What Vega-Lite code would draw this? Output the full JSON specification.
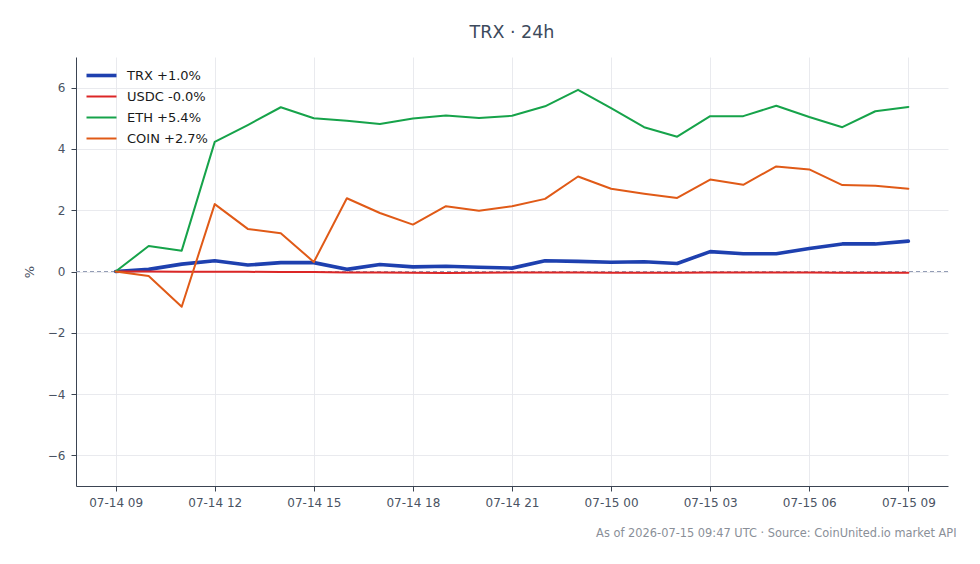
{
  "$schema": "https://vega.github.io/schema/vega-lite/v6.json",
  "width": 872,
  "height": 429,
  "autosize": {"type": "none"},
  "padding": {"left": 76, "top": 57, "right": 32, "bottom": 78},
  "background": "white",
  "config": {
    "font": "DejaVu Sans",
    "view": {"stroke": null},
    "axis": {
      "domainColor": "#3b4452",
      "tickColor": "#3b4452",
      "labelColor": "#4a5363",
      "labelFontSize": 12,
      "gridColor": "#e6e8ec",
      "gridWidth": 0.9,
      "tickSize": 5,
      "labelPadding": 6
    },
    "legend": {
      "orient": "none",
      "legendX": 19,
      "legendY": 12,
      "padding": 0,
      "labelFontSize": 13,
      "labelColor": "#1a1a1a",
      "symbolType": "stroke",
      "symbolSize": 900,
      "labelOffset": 19,
      "rowPadding": 7
    }
  },
  "title": {
    "text": "TRX · 24h",
    "fontSize": 17.5,
    "fontWeight": "normal",
    "color": "#3d4a5c",
    "anchor": "middle",
    "offset": 16
  },
  "data": {
    "values": [
      {"t": "2026-07-14T09:00:00Z", "s": "TRX +1.0%", "v": 0},
      {"t": "2026-07-14T10:00:00Z", "s": "TRX +1.0%", "v": 0.07},
      {"t": "2026-07-14T11:00:00Z", "s": "TRX +1.0%", "v": 0.24},
      {"t": "2026-07-14T12:00:00Z", "s": "TRX +1.0%", "v": 0.35},
      {"t": "2026-07-14T13:00:00Z", "s": "TRX +1.0%", "v": 0.21},
      {"t": "2026-07-14T14:00:00Z", "s": "TRX +1.0%", "v": 0.29},
      {"t": "2026-07-14T15:00:00Z", "s": "TRX +1.0%", "v": 0.29},
      {"t": "2026-07-14T16:00:00Z", "s": "TRX +1.0%", "v": 0.07},
      {"t": "2026-07-14T17:00:00Z", "s": "TRX +1.0%", "v": 0.23},
      {"t": "2026-07-14T18:00:00Z", "s": "TRX +1.0%", "v": 0.15},
      {"t": "2026-07-14T19:00:00Z", "s": "TRX +1.0%", "v": 0.17},
      {"t": "2026-07-14T20:00:00Z", "s": "TRX +1.0%", "v": 0.14},
      {"t": "2026-07-14T21:00:00Z", "s": "TRX +1.0%", "v": 0.11},
      {"t": "2026-07-14T22:00:00Z", "s": "TRX +1.0%", "v": 0.35},
      {"t": "2026-07-14T23:00:00Z", "s": "TRX +1.0%", "v": 0.33},
      {"t": "2026-07-15T00:00:00Z", "s": "TRX +1.0%", "v": 0.30},
      {"t": "2026-07-15T01:00:00Z", "s": "TRX +1.0%", "v": 0.32},
      {"t": "2026-07-15T02:00:00Z", "s": "TRX +1.0%", "v": 0.26},
      {"t": "2026-07-15T03:00:00Z", "s": "TRX +1.0%", "v": 0.65},
      {"t": "2026-07-15T04:00:00Z", "s": "TRX +1.0%", "v": 0.58},
      {"t": "2026-07-15T05:00:00Z", "s": "TRX +1.0%", "v": 0.58},
      {"t": "2026-07-15T06:00:00Z", "s": "TRX +1.0%", "v": 0.75},
      {"t": "2026-07-15T07:00:00Z", "s": "TRX +1.0%", "v": 0.90},
      {"t": "2026-07-15T08:00:00Z", "s": "TRX +1.0%", "v": 0.90},
      {"t": "2026-07-15T09:00:00Z", "s": "TRX +1.0%", "v": 0.99},
      {"t": "2026-07-14T09:00:00Z", "s": "USDC -0.0%", "v": 0},
      {"t": "2026-07-14T10:00:00Z", "s": "USDC -0.0%", "v": 0.0},
      {"t": "2026-07-14T11:00:00Z", "s": "USDC -0.0%", "v": -0.01},
      {"t": "2026-07-14T12:00:00Z", "s": "USDC -0.0%", "v": -0.01},
      {"t": "2026-07-14T13:00:00Z", "s": "USDC -0.0%", "v": -0.01},
      {"t": "2026-07-14T14:00:00Z", "s": "USDC -0.0%", "v": -0.02},
      {"t": "2026-07-14T15:00:00Z", "s": "USDC -0.0%", "v": -0.02},
      {"t": "2026-07-14T16:00:00Z", "s": "USDC -0.0%", "v": -0.03},
      {"t": "2026-07-14T17:00:00Z", "s": "USDC -0.0%", "v": -0.03},
      {"t": "2026-07-14T18:00:00Z", "s": "USDC -0.0%", "v": -0.04},
      {"t": "2026-07-14T19:00:00Z", "s": "USDC -0.0%", "v": -0.05},
      {"t": "2026-07-14T20:00:00Z", "s": "USDC -0.0%", "v": -0.04},
      {"t": "2026-07-14T21:00:00Z", "s": "USDC -0.0%", "v": -0.03},
      {"t": "2026-07-14T22:00:00Z", "s": "USDC -0.0%", "v": -0.03},
      {"t": "2026-07-14T23:00:00Z", "s": "USDC -0.0%", "v": -0.03},
      {"t": "2026-07-15T00:00:00Z", "s": "USDC -0.0%", "v": -0.04},
      {"t": "2026-07-15T01:00:00Z", "s": "USDC -0.0%", "v": -0.04},
      {"t": "2026-07-15T02:00:00Z", "s": "USDC -0.0%", "v": -0.04},
      {"t": "2026-07-15T03:00:00Z", "s": "USDC -0.0%", "v": -0.03},
      {"t": "2026-07-15T04:00:00Z", "s": "USDC -0.0%", "v": -0.03},
      {"t": "2026-07-15T05:00:00Z", "s": "USDC -0.0%", "v": -0.03},
      {"t": "2026-07-15T06:00:00Z", "s": "USDC -0.0%", "v": -0.03},
      {"t": "2026-07-15T07:00:00Z", "s": "USDC -0.0%", "v": -0.04},
      {"t": "2026-07-15T08:00:00Z", "s": "USDC -0.0%", "v": -0.04},
      {"t": "2026-07-15T09:00:00Z", "s": "USDC -0.0%", "v": -0.04},
      {"t": "2026-07-14T09:00:00Z", "s": "ETH +5.4%", "v": 0},
      {"t": "2026-07-14T10:00:00Z", "s": "ETH +5.4%", "v": 0.83},
      {"t": "2026-07-14T11:00:00Z", "s": "ETH +5.4%", "v": 0.68},
      {"t": "2026-07-14T12:00:00Z", "s": "ETH +5.4%", "v": 4.23},
      {"t": "2026-07-14T13:00:00Z", "s": "ETH +5.4%", "v": 4.78},
      {"t": "2026-07-14T14:00:00Z", "s": "ETH +5.4%", "v": 5.36},
      {"t": "2026-07-14T15:00:00Z", "s": "ETH +5.4%", "v": 5.0},
      {"t": "2026-07-14T16:00:00Z", "s": "ETH +5.4%", "v": 4.92},
      {"t": "2026-07-14T17:00:00Z", "s": "ETH +5.4%", "v": 4.81},
      {"t": "2026-07-14T18:00:00Z", "s": "ETH +5.4%", "v": 4.99},
      {"t": "2026-07-14T19:00:00Z", "s": "ETH +5.4%", "v": 5.09},
      {"t": "2026-07-14T20:00:00Z", "s": "ETH +5.4%", "v": 5.01},
      {"t": "2026-07-14T21:00:00Z", "s": "ETH +5.4%", "v": 5.08},
      {"t": "2026-07-14T22:00:00Z", "s": "ETH +5.4%", "v": 5.39},
      {"t": "2026-07-14T23:00:00Z", "s": "ETH +5.4%", "v": 5.93},
      {"t": "2026-07-15T00:00:00Z", "s": "ETH +5.4%", "v": 5.33},
      {"t": "2026-07-15T01:00:00Z", "s": "ETH +5.4%", "v": 4.71},
      {"t": "2026-07-15T02:00:00Z", "s": "ETH +5.4%", "v": 4.40},
      {"t": "2026-07-15T03:00:00Z", "s": "ETH +5.4%", "v": 5.07},
      {"t": "2026-07-15T04:00:00Z", "s": "ETH +5.4%", "v": 5.07},
      {"t": "2026-07-15T05:00:00Z", "s": "ETH +5.4%", "v": 5.41},
      {"t": "2026-07-15T06:00:00Z", "s": "ETH +5.4%", "v": 5.04},
      {"t": "2026-07-15T07:00:00Z", "s": "ETH +5.4%", "v": 4.71},
      {"t": "2026-07-15T08:00:00Z", "s": "ETH +5.4%", "v": 5.23},
      {"t": "2026-07-15T09:00:00Z", "s": "ETH +5.4%", "v": 5.37},
      {"t": "2026-07-14T09:00:00Z", "s": "COIN +2.7%", "v": 0},
      {"t": "2026-07-14T10:00:00Z", "s": "COIN +2.7%", "v": -0.15},
      {"t": "2026-07-14T11:00:00Z", "s": "COIN +2.7%", "v": -1.15},
      {"t": "2026-07-14T12:00:00Z", "s": "COIN +2.7%", "v": 2.2},
      {"t": "2026-07-14T13:00:00Z", "s": "COIN +2.7%", "v": 1.39},
      {"t": "2026-07-14T14:00:00Z", "s": "COIN +2.7%", "v": 1.25},
      {"t": "2026-07-14T15:00:00Z", "s": "COIN +2.7%", "v": 0.31},
      {"t": "2026-07-14T16:00:00Z", "s": "COIN +2.7%", "v": 2.39},
      {"t": "2026-07-14T17:00:00Z", "s": "COIN +2.7%", "v": 1.91},
      {"t": "2026-07-14T18:00:00Z", "s": "COIN +2.7%", "v": 1.53},
      {"t": "2026-07-14T19:00:00Z", "s": "COIN +2.7%", "v": 2.13},
      {"t": "2026-07-14T20:00:00Z", "s": "COIN +2.7%", "v": 1.98},
      {"t": "2026-07-14T21:00:00Z", "s": "COIN +2.7%", "v": 2.13},
      {"t": "2026-07-14T22:00:00Z", "s": "COIN +2.7%", "v": 2.37},
      {"t": "2026-07-14T23:00:00Z", "s": "COIN +2.7%", "v": 3.1},
      {"t": "2026-07-15T00:00:00Z", "s": "COIN +2.7%", "v": 2.7},
      {"t": "2026-07-15T01:00:00Z", "s": "COIN +2.7%", "v": 2.54},
      {"t": "2026-07-15T02:00:00Z", "s": "COIN +2.7%", "v": 2.4},
      {"t": "2026-07-15T03:00:00Z", "s": "COIN +2.7%", "v": 3.0},
      {"t": "2026-07-15T04:00:00Z", "s": "COIN +2.7%", "v": 2.83},
      {"t": "2026-07-15T05:00:00Z", "s": "COIN +2.7%", "v": 3.43},
      {"t": "2026-07-15T06:00:00Z", "s": "COIN +2.7%", "v": 3.33},
      {"t": "2026-07-15T07:00:00Z", "s": "COIN +2.7%", "v": 2.82},
      {"t": "2026-07-15T08:00:00Z", "s": "COIN +2.7%", "v": 2.8},
      {"t": "2026-07-15T09:00:00Z", "s": "COIN +2.7%", "v": 2.7}
    ]
  },
  "layer": [
    {
      "mark": {"type": "rule", "color": "#939db5", "strokeDash": [4, 3], "strokeWidth": 1},
      "encoding": {
        "y": {
          "datum": 0,
          "type": "quantitative",
          "scale": {"domain": [-7, 7], "nice": false},
          "axis": {
            "values": [-6, -4, -2, 0, 2, 4, 6],
            "grid": true,
            "format": "d",
            "title": "%",
            "titleFontSize": 13,
            "titleFontWeight": "normal",
            "titleColor": "#4a5363",
            "titlePadding": 11
          }
        }
      }
    },
    {
      "mark": {"type": "line", "strokeJoin": "round", "strokeCap": "round"},
      "encoding": {
        "x": {
          "field": "t",
          "type": "temporal",
          "scale": {
            "type": "utc",
            "domain": ["2026-07-14T07:48:00Z", "2026-07-15T10:12:00Z"]
          },
          "axis": {
            "labelExpr": "utcFormat(datum.value, '%m-%d %H')",
            "tickCount": 8,
            "grid": true,
            "title": "As of 2026-07-15 09:47 UTC · Source: CoinUnited.io market API",
            "titleFontSize": 11.4,
            "titleFontWeight": "normal",
            "titleColor": "#8a8f98",
            "titleAnchor": "end",
            "titleAlign": "right",
            "titleX": 880,
            "titleY": 41
          }
        },
        "y": {
          "field": "v",
          "type": "quantitative",
          "scale": {"domain": [-7, 7], "nice": false},
          "axis": {
            "values": [-6, -4, -2, 0, 2, 4, 6],
            "grid": true,
            "format": "d",
            "title": "%",
            "titleFontSize": 13,
            "titleFontWeight": "normal",
            "titleColor": "#4a5363",
            "titlePadding": 11
          }
        },
        "color": {
          "field": "s",
          "type": "nominal",
          "scale": {
            "domain": ["TRX +1.0%", "USDC -0.0%", "ETH +5.4%", "COIN +2.7%"],
            "range": ["#1e40af", "#dc2626", "#16a34a", "#e05a17"]
          },
          "legend": {
            "title": null,
            "encode": {
              "symbols": {
                "update": {
                  "strokeWidth": {"signal": "datum.value === 'TRX +1.0%' ? 3.6 : 2"}
                }
              }
            }
          }
        },
        "strokeWidth": {
          "condition": {"test": "datum.s === 'TRX +1.0%'", "value": 3.6},
          "value": 2
        }
      }
    }
  ]
}
